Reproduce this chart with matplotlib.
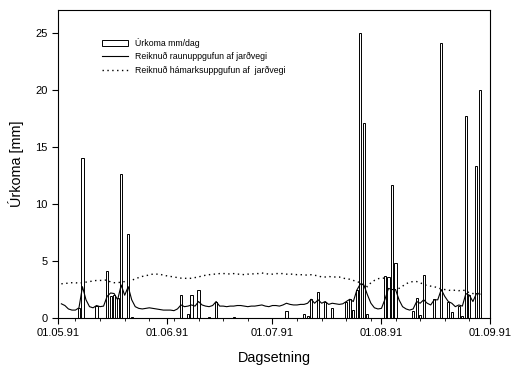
import matplotlib
matplotlib.use('Agg')
import matplotlib.pyplot as plt
import matplotlib.dates as mdates
import numpy as np

plt.rcParams['font.family'] = ['Liberation Sans', 'DejaVu Sans']

start = np.datetime64('1991-05-01')

# urkoma (mm/dag), dagar talid fra 01.05.91
rain_days = [6, 7, 11, 14, 15, 16, 17, 18, 20, 21, 35, 37, 38, 40, 43, 45, 50,
             65, 70, 71, 72, 74, 76, 78, 82, 83, 84, 85, 86, 87, 88,
             93, 94, 95, 96, 101, 102, 103, 104, 107, 109, 111, 112, 114, 115,
             116, 117, 119, 120]
rain_mm = [0.9, 14.0, 1.1, 4.1, 1.9, 2.0, 1.8, 12.6, 7.4, 0.1, 2.0, 0.35, 2.0, 2.5, 0.1, 1.4, 0.1,
           0.6, 0.4, 0.2, 1.65, 2.25, 1.4, 0.85, 1.4, 1.7, 0.7, 2.45, 25.0, 17.1, 0.4,
           3.7, 3.6, 11.7, 4.85, 0.6, 1.8, 0.3, 3.8, 1.7, 24.1, 1.4, 0.55, 1.1, 0.2,
           17.7, 2.0, 13.3, 20.0]

# reiknud raunuppgufun, dagar 1..120
et_actual = [1.25, 1.1, 0.8, 0.7, 0.7, 0.9, 2.75, 1.6, 1.0, 0.9,
             1.1, 1.0, 1.05, 1.9, 2.2, 2.15, 1.6, 2.9, 2.0, 2.75,
             1.6, 1.0, 0.85, 0.8, 0.85, 0.9, 0.85, 0.8, 0.75, 0.7,
             0.7, 0.7, 0.65, 0.8, 1.15, 1.0, 1.05, 1.15, 1.05, 1.45,
             1.15, 1.05, 1.0, 1.1, 1.45, 1.05, 1.05, 1.0, 1.05, 1.05,
             1.1, 1.1, 1.05, 1.0, 1.05, 1.05, 1.1, 1.15, 1.05, 1.0,
             1.1, 1.1, 1.05, 1.15, 1.3, 1.2, 1.15, 1.15, 1.2, 1.2,
             1.3, 1.65, 1.3, 1.6, 1.3, 1.45, 1.2, 1.3, 1.25, 1.2,
             1.25, 1.45, 1.65, 1.45, 2.45, 3.0, 2.9, 2.05, 1.3, 0.9,
             0.8, 0.85, 1.65, 2.6, 2.5, 2.5, 1.6, 1.0, 0.8, 0.7,
             0.8, 1.45, 1.3, 1.6, 1.3, 1.15, 1.6, 1.6, 2.5, 1.9,
             1.45, 1.3, 1.0, 1.15, 1.05, 2.15, 2.0, 1.45, 2.15, 2.1]

# reiknud hamarksuppgufun, dagar 1..120
et_potential = [3.0, 3.05, 3.05, 3.1, 3.1, 3.05, 3.1, 3.15, 3.2, 3.25,
                3.3, 3.3, 3.3, 3.35, 3.15, 3.1, 3.1, 3.15, 3.2, 3.25,
                3.3, 3.45, 3.55, 3.65, 3.7, 3.8, 3.85, 3.85, 3.85, 3.75,
                3.7, 3.65, 3.6, 3.55, 3.5, 3.5, 3.45, 3.5, 3.55, 3.6,
                3.7, 3.75, 3.8, 3.85, 3.85, 3.9, 3.9, 3.9, 3.85, 3.9,
                3.85, 3.85, 3.8, 3.85, 3.85, 3.9, 3.9, 3.95, 3.9, 3.85,
                3.85, 3.9, 3.9, 3.9, 3.85, 3.85, 3.85, 3.8, 3.8, 3.8,
                3.75, 3.8, 3.75, 3.7, 3.6, 3.6, 3.65, 3.6, 3.6, 3.6,
                3.5, 3.45, 3.4, 3.3, 3.2, 3.1, 2.9, 2.75, 3.1, 3.3,
                3.45, 3.5, 3.5, 3.3, 2.9, 2.7, 2.6, 2.8, 3.0, 3.15,
                3.2, 3.2, 3.1, 2.95, 2.85, 2.8, 2.75, 2.65, 2.55, 2.5,
                2.45, 2.4, 2.45, 2.4, 2.45, 2.4, 2.2, 2.15, 2.15, 2.2]

x_ticks = ['1991-05-01', '1991-06-01', '1991-07-01', '1991-08-01', '1991-09-01']

rain_dates = (start + np.array(rain_days)).astype('datetime64[D]').astype(object)
et_dates = (start + np.arange(1, len(et_actual) + 1)).astype('datetime64[D]').astype(object)

fig = plt.figure(figsize=(5.12, 3.69), dpi=100)
ax = fig.add_axes([0.113, 0.138, 0.845, 0.835])

bars = ax.bar(rain_dates, rain_mm, width=0.6, facecolor='white', edgecolor='black',
              linewidth=0.7, label='Úrkoma mm/dag', zorder=2)
l1, = ax.plot(et_dates, et_actual, color='black', linewidth=0.8,
              label='Reiknuð raunuppgufun af jarðvegi', zorder=3)
l2, = ax.plot(et_dates, et_potential, color='black', linewidth=1.0, linestyle=(0, (1, 2.5)),
              label='Reiknuð hámarksuppgufun af  jarðvegi', zorder=1)

ax.set_xlim(np.datetime64('1991-05-01').astype(object), np.datetime64('1991-09-01').astype(object))
ax.set_ylim(0, 27)
ax.set_xticks([np.datetime64(t).astype(object) for t in x_ticks])
ax.xaxis.set_major_formatter(mdates.DateFormatter('%d.%m.%y'))
ax.xaxis.set_minor_locator(mdates.WeekdayLocator(byweekday=mdates.MO))
ax.set_yticks([0, 5, 10, 15, 20, 25])

ax.tick_params(axis='both', which='major', direction='out', length=4, width=0.8, labelsize=8)
ax.tick_params(axis='x', which='minor', direction='out', length=2.5, width=0.6)
for s in ax.spines.values():
    s.set_linewidth(0.8)

ax.set_xlabel('Dagsetning', fontsize=10.4, labelpad=9)
ax.set_ylabel('Úrkoma [mm]', fontsize=10.4, labelpad=8)

ax.legend([bars, l1, l2], [bars.get_label(), l1.get_label(), l2.get_label()],
          loc='upper left', bbox_to_anchor=(0.103, 0.91), frameon=False, fontsize=6.3,
          handlelength=2.9, handletextpad=0.8, borderpad=0, borderaxespad=0,
          labelspacing=0.5)

fig.savefig('out.png', dpi=100)
